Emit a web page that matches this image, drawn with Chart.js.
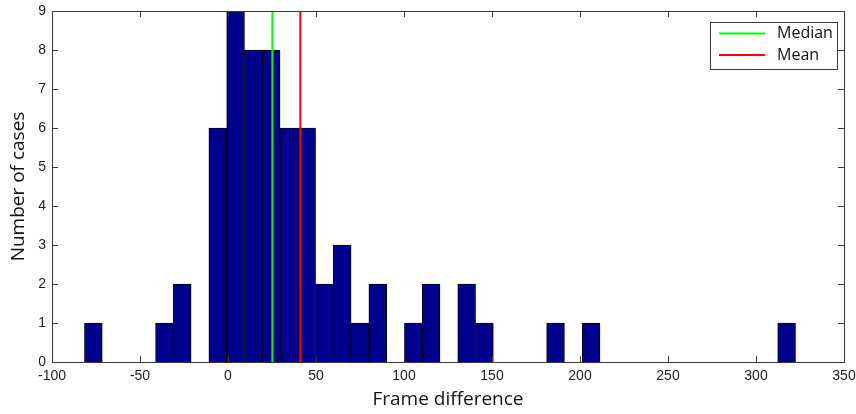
<!DOCTYPE html>
<html>
<head>
<meta charset="utf-8">
<script src="https://cdn.jsdelivr.net/npm/chart.js@4.4.0/dist/chart.umd.min.js"></script>
<style>
  html, body { margin: 0; padding: 0; background: #ffffff; }
  #wrap { width: 856px; height: 414px; position: relative; }
</style>
</head>
<body>
<div id="wrap"><canvas id="c" width="856" height="414"></canvas></div>
<script>
// Histogram bin centers (frame difference) and counts
const binCenters = [-76.5, -66.4, -56.3, -46.2, -36.1, -26.0, -15.9, -5.8, 4.3, 14.4,
  24.5, 34.6, 44.7, 54.8, 64.9, 75.0, 85.1, 95.2, 105.3, 115.4,
  125.5, 135.6, 145.7, 155.8, 165.9, 176.0, 186.1, 196.2, 206.3, 216.4,
  226.5, 236.6, 246.7, 256.8, 266.9, 277.0, 287.1, 297.2, 307.3, 317.4];
const counts = [1, 0, 0, 0, 1, 2, 0, 6, 9, 8,
  8, 6, 6, 2, 3, 1, 2, 0, 1, 2,
  0, 2, 1, 0, 0, 0, 1, 0, 1, 0,
  0, 0, 0, 0, 0, 0, 0, 0, 0, 1];
const medianValue = 25.2;
const meanValue = 41.1;
const xTicks = [-100, -50, 0, 50, 100, 150, 200, 250, 300, 350];
const yTicks = [0, 1, 2, 3, 4, 5, 6, 7, 8, 9];

const histData = binCenters.map((x, i) => ({ x: x, y: counts[i] }));

const frameAndLegend = {
  id: 'frameAndLegend',
  afterDraw(chart) {
    const ctx = chart.ctx;
    const a = chart.chartArea;
    const xs = chart.scales.x, ys = chart.scales.y;
    ctx.save();
    ctx.strokeStyle = '#3a3a3a';
    ctx.lineWidth = 1;
    ctx.strokeRect(Math.round(a.left) + 0.5, Math.round(a.top) + 0.5,
      Math.round(a.right - a.left), Math.round(a.bottom - a.top));
    const tl = 6;
    ctx.beginPath();
    xTicks.forEach(v => {
      const px = Math.round(xs.getPixelForValue(v)) + 0.5;
      ctx.moveTo(px, a.bottom); ctx.lineTo(px, a.bottom - tl);
      ctx.moveTo(px, a.top); ctx.lineTo(px, a.top + tl);
    });
    yTicks.forEach(v => {
      const py = Math.round(ys.getPixelForValue(v)) + 0.5;
      ctx.moveTo(a.left, py); ctx.lineTo(a.left + tl, py);
      ctx.moveTo(a.right, py); ctx.lineTo(a.right - tl, py);
    });
    ctx.stroke();

    const lines = chart.data.datasets.filter(d => d.type === 'line');
    const bx = a.right - 134, by = a.top + 11, bw = 127, bh = 47;
    ctx.fillStyle = '#ffffff';
    ctx.fillRect(bx, by, bw, bh);
    ctx.strokeStyle = '#3a3a3a';
    ctx.lineWidth = 1;
    ctx.strokeRect(Math.round(bx) + 0.5, Math.round(by) + 0.5, bw, bh);
    ctx.font = '16px "Open Sans", "DejaVu Sans", sans-serif';
    ctx.textBaseline = 'middle';
    ctx.textAlign = 'left';
    lines.forEach((d, i) => {
      const yy = by + 11.5 + i * 21.5;
      ctx.strokeStyle = d.borderColor;
      ctx.lineWidth = 2;
      ctx.beginPath();
      ctx.moveTo(bx + 9, yy); ctx.lineTo(bx + 55, yy);
      ctx.stroke();
      ctx.fillStyle = '#111111';
      ctx.fillText(d.label, bx + 67, yy);
    });
    ctx.restore();
  }
};

new Chart(document.getElementById('c'), {
  type: 'bar',
  data: {
    datasets: [
      {
        type: 'bar',
        label: 'Histogram',
        data: histData,
        backgroundColor: '#00008f',
        borderColor: '#000000',
        borderWidth: 1,
        barPercentage: 1.0,
        categoryPercentage: 1.0,
        order: 2
      },
      {
        type: 'line',
        label: 'Median',
        data: [{ x: medianValue, y: 0 }, { x: medianValue, y: 9 }],
        borderColor: '#00ff00',
        borderWidth: 2,
        pointRadius: 0,
        fill: false,
        order: 1
      },
      {
        type: 'line',
        label: 'Mean',
        data: [{ x: meanValue, y: 0 }, { x: meanValue, y: 9 }],
        borderColor: '#ff0000',
        borderWidth: 2,
        pointRadius: 0,
        fill: false,
        order: 0
      }
    ]
  },
  options: {
    responsive: false,
    animation: false,
    devicePixelRatio: 1,
    layout: { padding: { top: 11, right: 12, left: 0, bottom: 0 } },
    plugins: {
      legend: { display: false },
      tooltip: { enabled: false }
    },
    scales: {
      x: {
        type: 'linear',
        min: -100,
        max: 350,
        offset: false,
        afterBuildTicks(scale) { scale.ticks = xTicks.map(v => ({ value: v })); },
        afterFit(scale) { scale.height = 52; scale.paddingLeft = 0; scale.paddingRight = 0; },
        grid: { display: false, drawTicks: false },
        border: { display: false },
        ticks: {
          padding: 6,
          color: '#222222',
          font: { family: '"Liberation Sans Narrow", "Liberation Sans", Arial, sans-serif', size: 14 }
        },
        title: {
          display: true,
          text: 'Frame difference',
          color: '#111111',
          padding: { top: 0, bottom: 3 },
          font: { family: '"Open Sans", "DejaVu Sans", sans-serif', size: 19 }
        }
      },
      y: {
        type: 'linear',
        min: 0,
        max: 9,
        afterBuildTicks(scale) { scale.ticks = yTicks.map(v => ({ value: v })); },
        afterFit(scale) { scale.width = 52; scale.paddingTop = 0; scale.paddingBottom = 0; },
        grid: { display: false, drawTicks: false },
        border: { display: false },
        ticks: {
          padding: 6,
          color: '#222222',
          font: { family: '"Liberation Sans Narrow", "Liberation Sans", Arial, sans-serif', size: 14 }
        },
        title: {
          display: true,
          text: 'Number of cases',
          color: '#111111',
          padding: { top: 7, bottom: 0 },
          font: { family: '"Open Sans", "DejaVu Sans", sans-serif', size: 19 }
        }
      }
    }
  },
  plugins: [frameAndLegend]
});
</script>
</body>
</html>
